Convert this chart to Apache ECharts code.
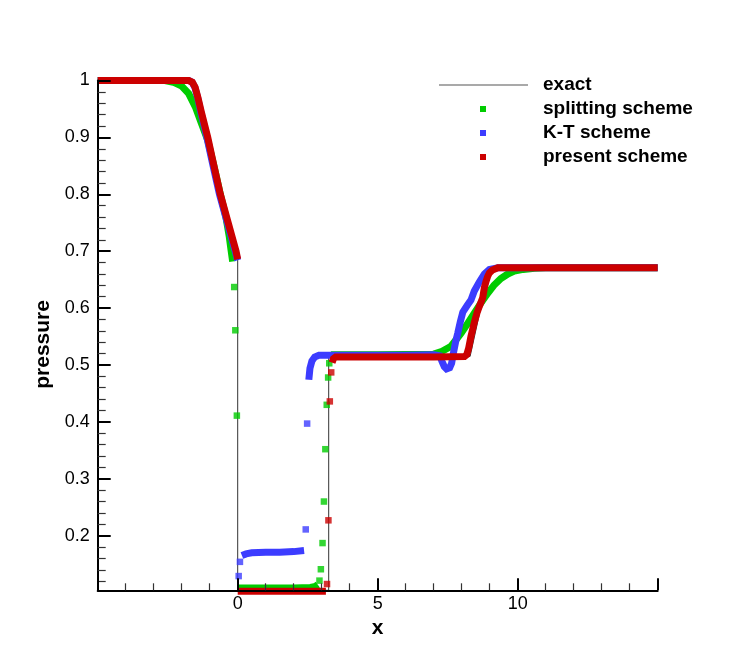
<!DOCTYPE html>
<html>
<head>
<meta charset="utf-8">
<script src="https://cdn.jsdelivr.net/npm/echarts@6/dist/echarts.min.js"></script>
<style>html,body{margin:0;padding:0;background:#fff}#c{width:747px;height:665px}</style>
</head>
<body>
<div id="c"></div>
<script>
// ---- axis ranges and ticks ----
const xRange = [-5, 15];
const yRange = [0.104, 1.0];
const xLabelTicks = [0, 5, 10];
const yMajorTicks = [0.2, 0.3, 0.4, 0.5, 0.6, 0.7, 0.8, 0.9, 1.0];

// ---- exact solution ----
const exactData = [[-5,1],[-1.6,1],[-1.3,0.948],[-1.07,0.9],[-0.62,0.8],[-0.06,0.7],[0,0.685],
  [0,0.104],[3.25,0.104],[3.25,0.515],[8.3,0.515],[8.99,0.670],[15,0.670]];

// ---- splitting scheme ----
const splitA = [[-5,1],[-2.6,1],[-2.3,0.997],[-2.0,0.99],[-1.75,0.977],[-1.5,0.952],[-1.3,0.925],
  [-1.07,0.895],[-0.85,0.85],[-0.62,0.8],[-0.42,0.76],[-0.3,0.725],[-0.24,0.703],[-0.18,0.682]];
const splitJump1 = [[-0.125,0.637],[-0.085,0.561],[-0.03,0.411]];
const splitB = [[0.0,0.108],[1.0,0.108],[2.0,0.108],[2.6,0.109],[2.78,0.111],[2.86,0.114]];
const splitJump2 = [[2.92,0.121],[2.97,0.141],[3.03,0.187],[3.08,0.26],[3.13,0.352],[3.18,0.43],[3.23,0.478],[3.27,0.503]];
const splitC = [[3.3,0.512],[3.4,0.518],[5,0.518],[7.0,0.519],[7.3,0.524],[7.62,0.533],[7.98,0.556],
  [8.2,0.572],[8.45,0.591],[8.7,0.61],[8.93,0.626],[9.15,0.64],[9.4,0.652],[9.65,0.66],[9.88,0.665],
  [10.2,0.668],[10.6,0.670],[11,0.671],[15,0.671]];

// ---- K-T scheme ----
const ktA = [[-5,1],[-1.75,1],[-1.63,0.997],[-1.53,0.988],[-1.43,0.97],[-1.32,0.945],[-1.10,0.9],
  [-0.88,0.85],[-0.65,0.8],[-0.37,0.75],[-0.09,0.7],[0,0.684]];
const ktJump1 = [[0.035,0.129],[0.08,0.154]];
const ktB = [[0.15,0.165],[0.2,0.168],[0.3,0.168],[0.5,0.170],[1.0,0.171],[1.5,0.171],[2.0,0.172],[2.37,0.174]];
const ktJump2 = [[2.43,0.211],[2.48,0.397]];
const ktC = [[2.54,0.474],[2.58,0.494],[2.65,0.507],[2.75,0.514],[2.9,0.517],[4,0.517],[6,0.517],
  [7.0,0.518],[7.22,0.516],[7.3,0.506],[7.38,0.497],[7.46,0.493],[7.57,0.495],[7.64,0.503],[7.7,0.52],
  [7.78,0.54],[7.86,0.556],[7.95,0.576],[8.04,0.593],[8.2,0.605],[8.33,0.614],[8.45,0.63],[8.63,0.646],
  [8.81,0.66],[8.99,0.668],[9.3,0.671],[15,0.671]];

// ---- present scheme ----
const presA = [[-5,1],[-1.75,1],[-1.62,0.997],[-1.52,0.988],[-1.42,0.97],[-1.3,0.945],[-1.07,0.9],
  [-0.85,0.85],[-0.62,0.8],[-0.34,0.75],[-0.06,0.7],[0,0.686]];
const presB = [[0.0,0.1025],[3.15,0.1025]];
const presJump = [[3.19,0.115],[3.24,0.227],[3.29,0.436],[3.34,0.487]];
const presC = [[3.37,0.504],[3.42,0.511],[3.5,0.514],[5,0.514],[7,0.514],[8.1,0.515],[8.18,0.518],
  [8.25,0.53],[8.33,0.55],[8.45,0.575],[8.55,0.592],[8.63,0.603],[8.75,0.618],[8.81,0.636],[8.87,0.647],
  [8.93,0.656],[8.99,0.662],[9.1,0.667],[9.29,0.671],[15,0.671]];

const names = ['exact', 'splitting scheme', 'K-T scheme', 'present scheme'];
const colors = {green: '#00cc00', blue: '#3c3cff', red: '#cc0000', exact: '#333333'};

// minor y ticks between majors (every 0.02)
const yMinorTicks = [];
for (let i = 0; i < yMajorTicks.length; i++) {
  for (let k = 1; k <= 4; k++) {
    const v = +(yMajorTicks[i] - k * 0.02).toFixed(3);
    if (v > yRange[0]) yMinorTicks.push(v);
  }
}

const FONT = 'Liberation Sans, Arial, Helvetica, sans-serif';

function band(name, data, color, z) {
  return {name, type: 'line', data, showSymbol: false, symbol: 'none', clip: false, z,
    lineStyle: {color, width: 7, join: 'miter'}, itemStyle: {color}, animation: false};
}
function dots(name, data, color, z) {
  return {name, type: 'scatter', data, symbol: 'rect', symbolSize: 6.5, clip: false, z,
    itemStyle: {color}, animation: false};
}

const series = [
  {name: names[0], type: 'line', data: exactData, symbol: 'none', showSymbol: false, z: 2, clip: false,
    lineStyle: {color: colors.exact, width: 1}, itemStyle: {color: colors.exact}, animation: false},
  band(names[1], splitA, colors.green, 3), dots(names[1], splitJump1, colors.green, 3),
  band(names[1], splitB, colors.green, 3), dots(names[1], splitJump2, colors.green, 3),
  band(names[1], splitC, colors.green, 3),
  band(names[2], ktA, colors.blue, 4), dots(names[2], ktJump1, colors.blue, 4),
  band(names[2], ktB, colors.blue, 4), dots(names[2], ktJump2, colors.blue, 4),
  band(names[2], ktC, colors.blue, 4),
  band(names[3], presA, colors.red, 5), band(names[3], presB, colors.red, 5),
  dots(names[3], presJump, colors.red, 5), band(names[3], presC, colors.red, 5)
];

const chart = echarts.init(document.getElementById('c'));
chart.setOption({
  animation: false,
  backgroundColor: '#fff',
  grid: {left: 97.7, right: 89.3, top: 80.5, bottom: 74.7, containLabel: false, outerBoundsMode: 'none'},
  legend: [
    {data: [names[0]], left: 434, top: 70, itemWidth: 89, itemHeight: 1, icon: 'rect', selectedMode: false,
      itemStyle: {borderWidth: 0, color: '#555'},
      textStyle: {fontFamily: FONT, fontSize: 19, fontWeight: 'bold', color: '#000', lineHeight: 20, padding: [0, 0, 0, 10]}},
    {data: names.slice(1), orient: 'vertical', left: 475, top: 94, itemWidth: 6, itemHeight: 6, itemGap: 4,
      icon: 'rect', selectedMode: false, itemStyle: {borderWidth: 0},
      textStyle: {fontFamily: FONT, fontSize: 19, fontWeight: 'bold', color: '#000', lineHeight: 20, padding: [0, 0, 0, 52]}}
  ],
  xAxis: {
    type: 'value', min: xRange[0], max: xRange[1], interval: 5, z: 6,
    name: 'x', nameLocation: 'middle', nameGap: 25,
    nameTextStyle: {fontFamily: FONT, fontSize: 21, fontWeight: 'bold', color: '#000'},
    axisLine: {show: true, onZero: false, lineStyle: {color: '#000', width: 2}},
    axisTick: {show: true, inside: true, length: 12, lineStyle: {color: '#000', width: 2}},
    minorTick: {show: true, splitNumber: 5, length: 7, lineStyle: {color: '#333', width: 1.2}},
    axisLabel: {customValues: xLabelTicks, margin: 5, fontFamily: FONT, fontSize: 18, color: '#000'},
    splitLine: {show: false}, minorSplitLine: {show: false}
  },
  yAxis: [
    {
      type: 'value', min: yRange[0], max: yRange[1], position: 'left', z: 6,
      name: 'pressure', nameLocation: 'middle', nameGap: 36,
      nameTextStyle: {fontFamily: FONT, fontSize: 21, fontWeight: 'bold', color: '#000', padding: [0, 18, 0, 0]},
      axisLine: {show: true, onZero: false, lineStyle: {color: '#000', width: 2}},
      axisTick: {show: true, inside: true, length: 13, customValues: yMajorTicks, lineStyle: {color: '#000', width: 2}},
      axisLabel: {show: true, customValues: yMajorTicks, margin: 8, fontFamily: FONT, fontSize: 18, color: '#000',
        formatter: v => String(parseFloat((+v).toFixed(2)))},
      splitLine: {show: false}
    },
    {
      type: 'value', min: yRange[0], max: yRange[1], position: 'left', z: 6,
      axisLine: {show: false, onZero: false},
      axisTick: {show: true, inside: true, length: 8, customValues: yMinorTicks, lineStyle: {color: '#333', width: 1.2}},
      axisLabel: {show: false, customValues: yMinorTicks},
      splitLine: {show: false}
    }
  ],
  series
});
</script>
</body>
</html>
